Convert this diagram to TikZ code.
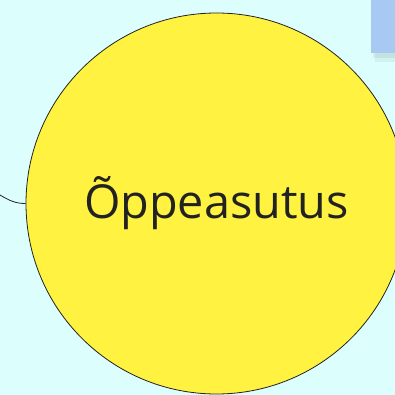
\documentclass[tikz,border=0pt]{standalone}
\usepackage{fontspec}
\setmainfont{Open Sans}
\usetikzlibrary{positioning}
\definecolor{bgcyan}{RGB}{220,255,253}
\definecolor{topicyellow}{RGB}{255,242,64}
\definecolor{boxblue}{RGB}{168,202,242}
\definecolor{inkgrey}{RGB}{34,34,34}
\tikzset{
  topic/.style={
    shape = circle,
    draw = inkgrey,
    fill = topicyellow,
    line width = 0.8pt,
    inner sep = 0pt,
    minimum size = 381pt,
    font = \fontsize{46.8}{56}\selectfont,
    text = inkgrey
  },
  sidebox/.style={
    shape = rectangle,
    fill = boxblue,
    inner sep = 0pt,
    minimum width = 30pt,
    minimum height = 60pt
  },
  link/.style={
    line width = 0.8pt,
    draw = inkgrey
  }
}
\begin{document}
\begin{tikzpicture}[x=1pt,y=-1pt]
        \fill[bgcyan] (0,0) rectangle (395,395);
        \useasboundingbox (0,0) rectangle (395,395);

        \fill[black, opacity=0.05] (375,-5) rectangle (400,62);
        \fill[black, opacity=0.06] (373,-5) rectangle (400,58);
        \node[sidebox, anchor=north west] (box) at (371,-7) {};

        \node[topic] (oppe) at (216.5,203.5) {Õppeasutus};

        \coordinate (free) at (0,195);
        \draw[link] (free) .. controls (10,201) and (16,203.5) .. (oppe.west);
\end{tikzpicture}
\end{document}
